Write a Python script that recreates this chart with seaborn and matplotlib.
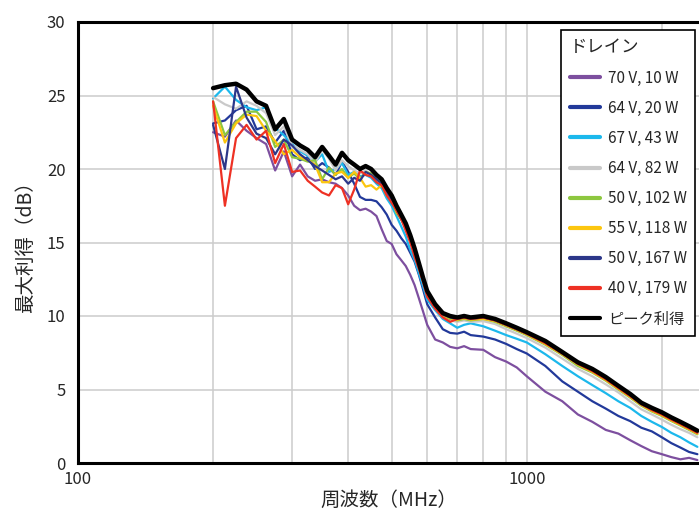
import numpy as np
import pandas as pd
import matplotlib
matplotlib.use("Agg")
import matplotlib.pyplot as plt
import seaborn as sns
from matplotlib.ticker import LogLocator, NullFormatter, FixedLocator

# frequency grid (MHz)
freq = [200, 212.5, 225, 237.5, 250, 262.5, 275, 287.5, 300, 312.5, 325, 337.5,
        350, 362.5, 375, 387.5, 400, 412.5, 425, 437.5, 450, 462.5, 475, 487.5,
        500, 512.5, 525, 537.5, 550, 562.5, 575, 587.5, 600,
        625, 650, 675, 700, 725, 750, 800, 850, 900, 950, 1000, 1100, 1200,
        1300, 1400, 1500, 1600, 1700, 1800, 1900, 2000, 2100, 2200, 2300, 2400]

# max gain (dB) per drain condition
g_70v_10w = [22.5, 22.2, 23.3, 22.6, 22.1, 21.7, 19.9, 21.2, 19.5, 20.3, 19.5, 19.2,
             19.3, 19.1, 19.0, 18.7, 18.2, 17.5, 17.2, 17.3, 17.1, 16.8, 15.9, 15.1,
             14.9, 14.2, 13.8, 13.4, 12.8, 12.1, 11.2, 10.3, 9.4,
             8.4, 8.2, 7.9, 7.8, 7.95, 7.75, 7.7, 7.2, 6.9, 6.5, 5.9, 4.85, 4.2,
             3.3, 2.8, 2.25, 2.0, 1.55, 1.15, 0.8, 0.6, 0.4, 0.25, 0.35, 0.2]
g_64v_20w = [23.1, 23.3, 24.0, 24.3, 22.7, 22.9, 21.8, 22.6, 21.0, 20.6, 20.8, 20.0,
             20.4, 20.1, 19.6, 20.5, 19.8, 19.0, 18.1, 17.9, 17.9, 17.8, 17.4, 16.9,
             16.2, 15.8, 15.3, 14.9, 14.3, 13.7, 12.8, 11.8, 10.8,
             9.9, 9.1, 8.85, 8.8, 8.93, 8.7, 8.6, 8.4, 8.1, 7.75, 7.45, 6.6, 5.55,
             4.85, 4.2, 3.7, 3.2, 2.85, 2.4, 2.15, 1.75, 1.35, 1.05, 0.75, 0.6]
g_67v_43w = [24.8, 25.6, 24.7, 24.2, 24.0, 24.2, 22.8, 22.3, 21.7, 21.2, 20.9, 20.5,
             21.0, 19.8, 20.0, 20.4, 19.6, 19.8, 19.5, 19.6, 19.4, 19.0, 18.7, 18.0,
             17.5, 16.8, 16.1, 15.4, 14.5, 13.8, 12.9, 12.0, 11.1,
             10.4, 9.8, 9.5, 9.2, 9.4, 9.5, 9.3, 9.0, 8.7, 8.45, 8.2, 7.4, 6.6,
             5.9, 5.3, 4.75, 4.2, 3.75, 3.2, 2.8, 2.45, 2.05, 1.75, 1.4, 1.1]
g_64v_82w = [24.9, 24.4, 24.1, 24.6, 24.3, 23.8, 22.3, 22.9, 21.6, 21.3, 21.0, 20.4,
             21.3, 20.7, 19.9, 20.6, 20.2, 19.9, 19.7, 19.9, 19.6, 19.2, 19.0, 18.4,
             17.9, 17.1, 16.6, 16.0, 15.1, 14.3, 13.3, 12.3, 11.4,
             10.5, 9.9, 9.7, 9.6, 9.7, 9.6, 9.65, 9.45, 9.1, 8.8, 8.5, 7.85, 7.1,
             6.4, 5.9, 5.35, 4.8, 4.2, 3.65, 3.3, 2.95, 2.6, 2.3, 2.05, 1.75]
g_50v_102w = [24.6, 22.3, 23.2, 23.9, 23.9, 23.2, 21.5, 22.0, 20.8, 20.7, 20.5, 20.6,
              19.3, 20.1, 19.6, 20.0, 19.4, 19.7, 19.3, 19.8, 19.7, 19.3, 19.1, 18.5,
              18.0, 17.0, 16.6, 16.1, 15.2, 14.4, 13.4, 12.4, 11.5,
              10.6, 10.0, 9.8, 9.7, 9.8, 9.7, 9.8, 9.6, 9.3, 9.0, 8.7, 8.05, 7.35,
              6.6, 6.15, 5.6, 5.0, 4.45, 3.9, 3.5, 3.2, 2.85, 2.55, 2.25, 1.95]
g_55v_118w = [24.3, 21.8, 23.1, 23.7, 23.6, 22.6, 21.9, 21.0, 21.3, 20.8, 20.6, 20.3,
              19.1, 19.1, 19.7, 19.8, 19.4, 19.8, 19.4, 18.8, 18.9, 18.6, 18.9, 18.2,
              17.9, 17.1, 16.6, 16.0, 15.2, 14.4, 13.4, 12.4, 11.5,
              10.6, 10.05, 9.85, 9.75, 9.85, 9.75, 9.8, 9.65, 9.35, 9.05, 8.75, 8.1, 7.4,
              6.7, 6.2, 5.65, 5.05, 4.5, 3.95, 3.55, 3.25, 2.9, 2.6, 2.3, 2.0]
g_50v_167w = [23.0, 20.0, 25.6, 23.5, 22.4, 22.1, 21.0, 22.0, 21.6, 21.0, 20.6, 20.2,
              19.9, 19.6, 19.3, 19.5, 19.0, 19.4, 19.2, 19.8, 19.6, 19.3, 19.0, 18.4,
              17.9, 17.2, 16.6, 16.0, 15.2, 14.4, 13.4, 12.4, 11.5,
              10.7, 10.1, 9.9, 9.8, 9.9, 9.8, 9.9, 9.7, 9.4, 9.1, 8.8, 8.2, 7.45,
              6.75, 6.3, 5.75, 5.15, 4.6, 4.0, 3.65, 3.35, 3.0, 2.7, 2.4, 2.1]
g_40v_179w = [24.6, 17.5, 22.1, 23.0, 22.0, 22.6, 20.4, 21.7, 19.8, 19.9, 19.2, 18.8,
              18.4, 18.2, 18.9, 18.7, 17.6, 18.6, 19.9, 19.6, 19.5, 19.1, 18.9, 18.2,
              17.7, 17.2, 16.6, 15.8, 15.0, 14.0, 13.2, 12.3, 11.3,
              10.5, 9.9, 9.6, 9.8, 9.9, 9.8, 9.9, 9.7, 9.4, 9.1, 8.8, 8.15, 7.45,
              6.75, 6.25, 5.7, 5.1, 4.55, 4.0, 3.6, 3.3, 2.95, 2.65, 2.35, 2.05]
peak_gain = [25.5, 25.7, 25.8, 25.4, 24.6, 24.3, 22.7, 23.4, 22.0, 21.6, 21.3, 20.8,
             21.5, 20.9, 20.3, 21.1, 20.6, 20.3, 20.0, 20.2, 20.0, 19.6, 19.3, 18.7,
             18.2, 17.5, 16.9, 16.3, 15.5, 14.6, 13.6, 12.6, 11.7,
             10.8, 10.2, 10.0, 9.9, 10.0, 9.9, 10.0, 9.8, 9.5, 9.2, 8.9, 8.3, 7.55,
             6.85, 6.4, 5.85, 5.25, 4.7, 4.1, 3.75, 3.45, 3.1, 2.8, 2.5, 2.2]

labels = ["70 V, 10 W", "64 V, 20 W", "67 V, 43 W", "64 V, 82 W", "50 V, 102 W",
          "55 V, 118 W", "50 V, 167 W", "40 V, 179 W", "ピーク利得"]
colors = ["#7d4f9f", "#22399a", "#1cb8ec", "#c9c9c9", "#8dc73f",
          "#fcc60f", "#2c3789", "#ee3124", "#000000"]
series = [g_70v_10w, g_64v_20w, g_67v_43w, g_64v_82w, g_50v_102w,
          g_55v_118w, g_50v_167w, g_40v_179w, peak_gain]

df = pd.DataFrame({lab: vals for lab, vals in zip(labels, series)})
df["freq"] = freq
long = df.melt(id_vars="freq", var_name="drain", value_name="gain")

sns.set_style("white")
num_font = ["Liberation Sans Narrow", "Noto Sans CJK JP", "DejaVu Sans"]
jp_font = ["Noto Sans CJK JP", "DejaVu Sans"]
plt.rcParams["font.family"] = num_font

fig = plt.figure(figsize=(6.99, 5.19), dpi=100)
ax = fig.add_axes([78 / 699, 1 - 463 / 519, 1 - 78 / 699, (463 - 22) / 519])

for lab, col in zip(labels, colors):
    lw = 3.2 if lab == "ピーク利得" else 1.6
    sns.lineplot(data=long[long["drain"] == lab], x="freq", y="gain",
                 color=col, linewidth=lw, label=lab, ax=ax, sort=False,
                 zorder=3 if lab == "ピーク利得" else 2)

ax.set_xscale("log")
ax.set_xlim(100, 2420)
ax.set_ylim(0, 30)
ax.xaxis.set_major_locator(FixedLocator([100, 1000]))
ax.set_xticklabels(["100", "1000"])
ax.xaxis.set_minor_locator(LogLocator(base=10, subs=range(2, 10)))
ax.xaxis.set_minor_formatter(NullFormatter())
ax.set_yticks(range(0, 31, 5))
ax.tick_params(which="both", length=0, labelsize=12)
ax.tick_params(axis="x", pad=6)
ax.tick_params(axis="y", pad=9)
ax.grid(True, which="both", color="#cccccc", linewidth=1.1)
ax.set_axisbelow(True)

for side in ["left", "bottom", "top"]:
    ax.spines[side].set_color("black")
    ax.spines[side].set_linewidth(2.2)
ax.spines["right"].set_visible(False)

ax.set_xlabel("周波数（MHz）", fontsize=14, family=jp_font, labelpad=1)
ax.set_ylabel("最大利得（dB）", fontsize=14, family=jp_font, labelpad=8)

leg = ax.legend(loc="upper right", bbox_to_anchor=(0.994, 0.982), title="ドレイン",
                frameon=True, fancybox=False, handlelength=2.0,
                handletextpad=0.5, labelspacing=0.86, borderpad=0.55,
                borderaxespad=0, alignment="left",
                prop={"family": num_font, "size": 11})
leg.get_title().set_fontfamily(jp_font)
leg.get_title().set_fontsize(12.5)
leg.get_frame().set_edgecolor("black")
leg.get_frame().set_linewidth(1.2)
leg.get_frame().set_alpha(1)
for line in leg.get_lines():
    line.set_linewidth(3.0)

fig.savefig("out.png", dpi=100)
